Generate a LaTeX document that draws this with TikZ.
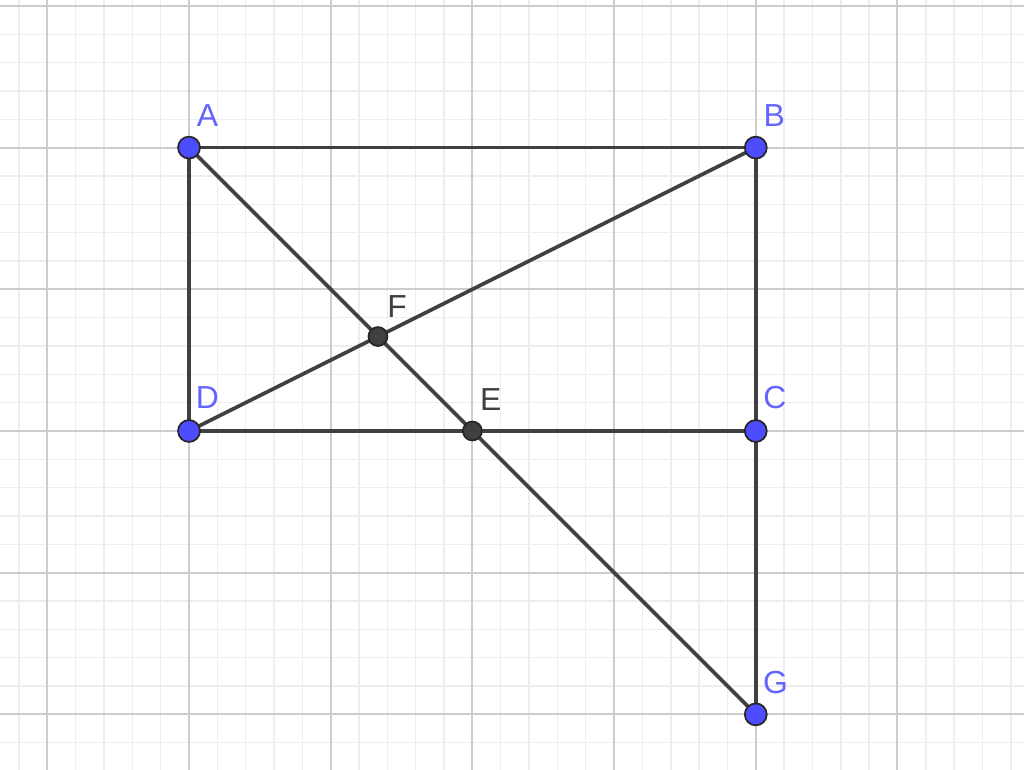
\documentclass[tikz,border=0pt]{standalone}
\usepackage{fontspec}
\setmainfont{Liberation Sans}
\usepackage{tikz}
\usetikzlibrary{calc}
\definecolor{segcol}{RGB}{64,64,64}
\definecolor{ptblue}{RGB}{77,77,255}
\definecolor{lblblue}{RGB}{100,100,255}
\definecolor{majgrid}{RGB}{205,205,205}
\definecolor{mingrid}{RGB}{238,238,238}
\tikzset{
 seg/.style={draw=segcol, line width=0.75pt},
 freept/.style={circle, draw=black!85, line width=0.35pt, fill=ptblue, inner sep=0pt, minimum size=4.4pt},
 cutpt/.style={circle, draw=black!85, line width=0.35pt, fill=segcol, inner sep=0pt, minimum size=3.8pt},
 bluelbl/.style={text=lblblue, font=\fontsize{6.4}{7}\selectfont, inner sep=0pt},
 graylbl/.style={text=segcol, font=\fontsize{6.4}{7}\selectfont, inner sep=0pt}
}
\begin{document}
\begin{tikzpicture}
 \useasboundingbox (-1.334,-2.392) rectangle (5.893,3.042);
 \clip (-1.334,-2.392) rectangle (5.893,3.042);
 % grid
 \draw[mingrid, line width=0.3pt] (-1.4,-2.4) grid[step=0.2] (6,3.2);
 \draw[majgrid, line width=0.4pt] (-1.4,-2.4) grid[step=1] (6,3.2);
 % points
 \coordinate (a) at (0,2);
 \coordinate (b) at (4,2);
 \coordinate (c) at (4,0);
 \coordinate (d) at (0,0);
 \coordinate (e) at (2,0);
 \coordinate (f) at (4/3,2/3);
 \coordinate (g) at (4,-2);
 % segments
 \draw[seg] (a) -- (b) -- (c) -- (g);
 \draw[seg] (a) -- (d) -- (c);
 \draw[seg] (a) -- (g);
 \draw[seg] (b) -- (d);
 % dots and labels
 \node[cutpt, label={[graylbl, shift={(0.135,0.215)}]center:F}] (F) at (f) {};
 \node[cutpt, label={[graylbl, shift={(0.13,0.22)}]center:E}] (E) at (e) {};
 \node[freept, label={[bluelbl, shift={(0.13,0.225)}]center:A}] (A) at (a) {};
 \node[freept, label={[bluelbl, shift={(0.13,0.225)}]center:B}] (B) at (b) {};
 \node[freept, label={[bluelbl, shift={(0.135,0.235)}]center:C}] (C) at (c) {};
 \node[freept, label={[bluelbl, shift={(0.13,0.235)}]center:D}] (D) at (d) {};
 \node[freept, label={[bluelbl, shift={(0.14,0.225)}]center:G}] (G) at (g) {};
\end{tikzpicture}
\end{document}
